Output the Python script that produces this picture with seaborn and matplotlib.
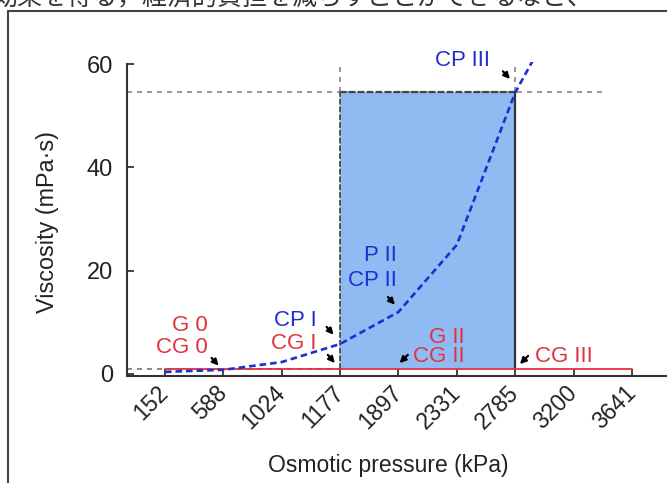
import numpy as np
import pandas as pd
import seaborn as sns
import matplotlib.pyplot as plt
import matplotlib.transforms as mtransforms
from matplotlib.lines import Line2D

# osmotic pressure categories (kPa) and viscosity readings (mPa·s)
pressure = ['152', '588', '1024', '1177', '1897', '2331', '2785', '3200', '3641']
cp_visc = [0.4, 0.8, 2.3, 5.8, 12.0, 25.0, 54.5, 75.0]
cg_visc = [0.9, 0.9, 0.9, 0.9, 0.9, 0.9, 0.9, 0.9, 0.9]
win_lo, win_hi = '1177', '2785'
win_top = 54.5
win_bot = 0.9

BLUE = '#1d2fd2'
RED = '#e0333c'
FILL = '#8fbaf2'

sns.set_theme(style='ticks')
plt.rcParams['font.family'] = ['Liberation Sans', 'DejaVu Sans']

fig = plt.figure(figsize=(6.67, 4.83), dpi=100)
ax = fig.add_axes([127/667, (483-375.5)/483, 540/667, 313.5/483])

cp = pd.DataFrame({'x': np.arange(len(cp_visc)), 'v': cp_visc})
cg = pd.DataFrame({'x': np.arange(len(cg_visc)), 'v': cg_visc})
i0, i1 = pressure.index(win_lo), pressure.index(win_hi)

# viscosity window
ax.fill_between([i0, i1], win_bot, win_top, color=FILL, lw=0, zorder=1)
ax.plot([i0, i1], [win_top, win_top], color='#444444', lw=1.6, ls=(0, (3, 1)), zorder=3)
ax.plot([i0, i0], [win_bot, win_top], color='#555555', lw=1.4, ls=(0, (3, 1)), zorder=3)
ax.plot([i1, i1], [win_bot, win_top], color='#333333', lw=1.6, zorder=3)
ax.plot([i0, i0], [win_top, 60], color='#888888', lw=1.2, ls=(0, (3, 3)), zorder=2)
ax.plot([i1, i1], [win_top, 60], color='#888888', lw=1.2, ls=(0, (3, 3)), zorder=2)
ax.plot([-0.65, 7.57], [win_top, win_top], color='#888888', lw=1.2, ls=(0, (3, 3)), zorder=2)
ax.plot([-0.65, i0], [win_bot, win_bot], color='#777777', lw=1.2, ls=(0, (3, 3)), zorder=2)

sns.lineplot(data=cg, x='x', y='v', color=RED, lw=1.3, ax=ax, zorder=4)
sns.lineplot(data=cp, x='x', y='v', color=BLUE, lw=1.9, ax=ax, zorder=5,
             linestyle=(0, (2.5, 1.5)))

ax.set_xlim(-0.65, 8.6)
ax.set_ylim(-0.3, 60.4)
ax.set_xticks(range(len(pressure)))
ax.set_xticklabels(pressure, rotation=45, ha='right', va='center',
                   rotation_mode='anchor')
shift = mtransforms.ScaledTranslation(-3/100, 0, fig.dpi_scale_trans)
for lab in ax.get_xticklabels():
    lab.set_transform(lab.get_transform() + shift)
ax.set_yticks([0, 20, 40, 60])
ax.tick_params(axis='both', direction='in', length=5, width=1.2, colors='#222222',
               labelsize=17)
ax.tick_params(axis='y', pad=10)
ax.tick_params(axis='x', pad=10, labelsize=16.5)
sns.despine(ax=ax, right=True, top=True)
ax.spines['left'].set_bounds(0, 60)
for s in ['left', 'bottom']:
    ax.spines[s].set_color('#333333')
    ax.spines[s].set_linewidth(1.5)

ax.set_ylabel('Viscosity (mPa·s)', fontsize=16.8, color='#222222')
ax.yaxis.set_label_coords(-0.125, 0.49)
ax.set_xlabel('Osmotic pressure (kPa)', fontsize=16.5, color='#222222')
ax.xaxis.set_label_coords((388-127)/540, -0.25)

# labels and arrows
fs = 16
ax.text(0.74, 9.3, 'G 0', color=RED, fontsize=fs, ha='right', va='center')
ax.text(0.74, 5.2, 'CG 0', color=RED, fontsize=fs, ha='right', va='center')
ax.text(2.6, 10.4, 'CP I', color=BLUE, fontsize=fs, ha='right', va='center')
ax.text(2.6, 5.8, 'CG I', color=RED, fontsize=fs, ha='right', va='center')
ax.text(3.97, 23.0, 'P II', color=BLUE, fontsize=fs, ha='right', va='center')
ax.text(3.97, 18.0, 'CP II', color=BLUE, fontsize=fs, ha='right', va='center')
ax.text(5.14, 7.0, 'G II', color=RED, fontsize=fs, ha='right', va='center')
ax.text(5.14, 3.3, 'CG II', color=RED, fontsize=fs, ha='right', va='center')
ax.text(6.34, 3.3, 'CG III', color=RED, fontsize=fs, ha='left', va='center')
ax.text(5.09, 60.6, 'CP III', color=BLUE, fontsize=fs, ha='center', va='center', clip_on=False)

arrows = [((0.80, 3.1), (0.92, 1.6)), ((2.77, 9.1), (2.89, 7.6)), ((2.79, 3.7), (2.91, 2.1)),
          ((3.82, 14.9), (3.94, 13.4)), ((4.16, 3.7), (4.02, 2.1)), ((6.22, 3.5), (6.08, 1.9)),
          ((5.79, 58.6), (5.91, 57.1))]
for tail, head in arrows:
    ax.annotate('', xy=head, xytext=tail, annotation_clip=False,
                arrowprops=dict(arrowstyle='-|>', color='black', lw=1.6,
                                mutation_scale=9, shrinkA=0, shrinkB=0))

# page frame and cut-off text line of the source document
fig.add_artist(Line2D([8/667, 8/667], [0, 1-10.5/483], color='#444444', lw=1.5))
fig.add_artist(Line2D([8/667, 1], [1-10.5/483, 1-10.5/483], color='#444444', lw=1.5))
fig.text(-8/667, 1-5/483, '効果を得る，経済的負担を減らすことができるなど、',
         fontsize=18, color='#333333', ha='left', va='baseline',
         family=['Noto Sans CJK JP', 'DejaVu Sans'])

fig.savefig('out.png', dpi=100)
